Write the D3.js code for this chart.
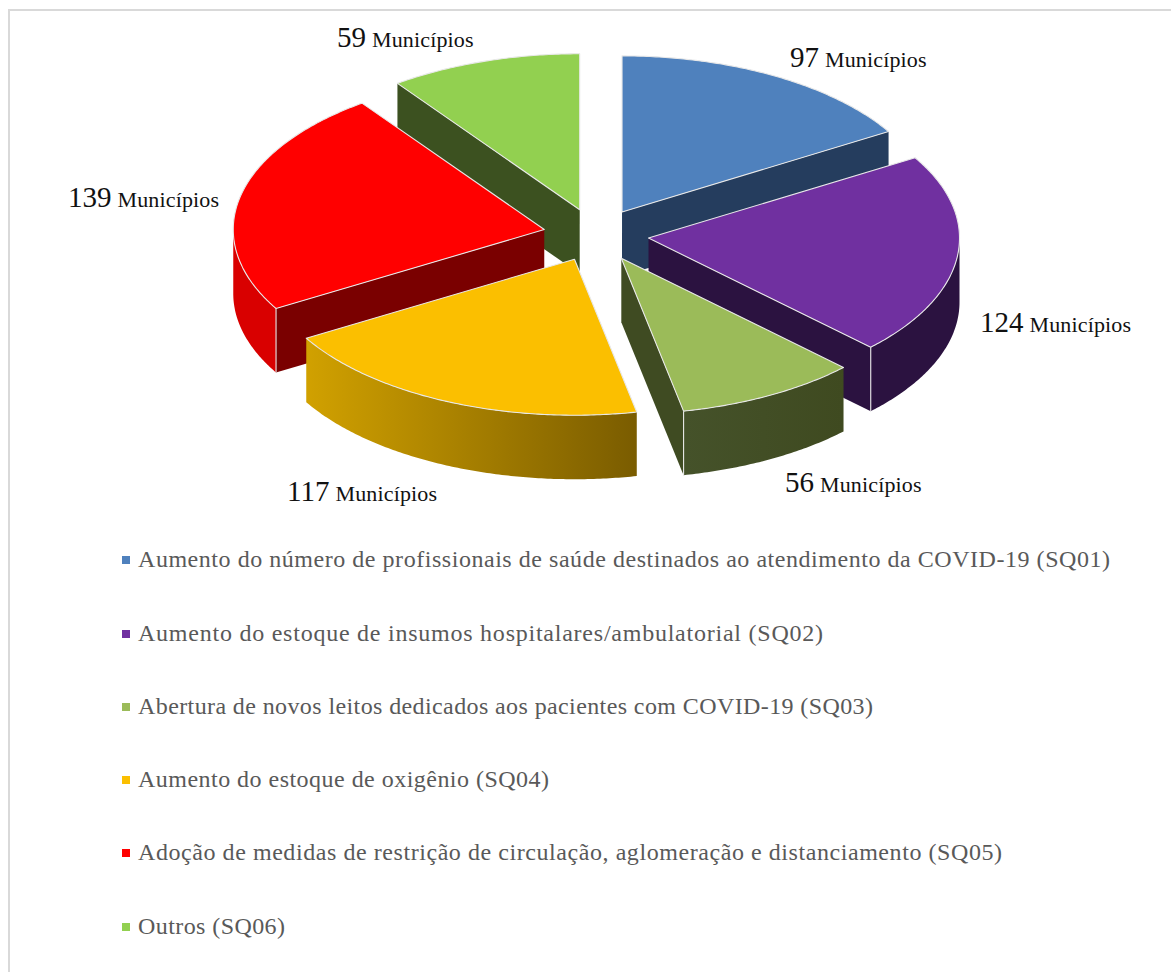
<!DOCTYPE html>
<html><head><meta charset="utf-8">
<script src="https://cdn.jsdelivr.net/npm/d3@7/dist/d3.min.js"></script>
<style>html,body{margin:0;padding:0;background:#fff;overflow:hidden}svg{display:block}text{font-family:"Liberation Serif",serif}</style>
</head><body><div id="c"></div>
<script>
const categories = [
 "Aumento do número de profissionais de saúde destinados ao atendimento da COVID-19 (SQ01)",
 "Aumento do estoque de insumos hospitalares/ambulatorial (SQ02)",
 "Abertura de novos leitos dedicados aos pacientes com COVID-19 (SQ03)",
 "Aumento do estoque de oxigênio (SQ04)",
 "Adoção de medidas de restrição de circulação, aglomeração e distanciamento (SQ05)",
 "Outros (SQ06)"];
const values = [97,124,56,117,139,59];
const unit = "Municípios";
const topColors  = ["#4f81bd","#7030a0","#9bbb59","#fbbf00","#ff0000","#92d050"];
const wallColors = ["#253d5e","#2b1240","#3f4b22","#7a5c00","#7a0000","#3c5120"];
const rimStart   = ["#253d5e","#2b1240","#3f4a20","#7a5c00","#d90000","#3c5120"];
const rimEnd     = ["#253d5e","#2b1240","#45522a","#d1a100","#d90000","#3c5120"];
const drawOrder  = [5,0,4,1,3,2];
const labelX = [790,980,785,287,68,337];
const labelY = [67,332,492,501,207,47];
const legendY = [560,634,707,780,853,927];
const legendWidth = [972,685,735,411,864,147];

const W=1171,H=972, cx=596, cy=235, rx=311, ry=156, depth=64, explode=0.17;
const x=d3.scaleLinear().domain([-1,1]).range([cx-rx,cx+rx]);
const y=d3.scaleLinear().domain([-1,1]).range([cy-ry,cy+ry]);
const svg=d3.select("#c").append("svg").attr("width",W).attr("height",H);
svg.append("rect").attr("width",W).attr("height",H).attr("fill","#fff");
svg.append("path").attr("d",`M9,${H}V10H${W}`).attr("fill","none").attr("stroke","#d9d9d9").attr("stroke-width",2);

const arcs=d3.pie().sort(null).startAngle(0).endAngle(2*Math.PI)(values);
const defs=svg.append("defs");
const line=d3.line().x(d=>d[0]).y(d=>d[1]);
function pt(d,a,r,dz=0){
  const m=(d.startAngle+d.endAngle)/2;
  return [x(explode*Math.sin(m)+r*Math.sin(a)), y(-explode*Math.cos(m)-r*Math.cos(a))+dz];
}
function sweep(a0,a1){const n=Math.max(2,Math.ceil((a1-a0)/0.01));return d3.range(n+1).map(i=>a0+(a1-a0)*i/n);}
const edge={stroke:"#e8e8e8","stroke-width":1.1,"stroke-linejoin":"round"};
function styled(sel,o){Object.entries(o).forEach(([k,v])=>sel.attr(k,v));return sel;}

drawOrder.forEach(i=>{
  const d=arcs[i], a0=d.startAngle, a1=d.endAngle, g=svg.append("g");
  const wall=a=>[pt(d,a,0),pt(d,a,1),pt(d,a,1,depth),pt(d,a,0,depth)];
  if(Math.sin(a0)<0) g.append("path").attr("d",line(wall(a0))+"Z").attr("fill",wallColors[i]);
  if(Math.sin(a1)>0.001) g.append("path").attr("d",line(wall(a1))+"Z").attr("fill",wallColors[i]);
  const r0=Math.max(a0,Math.PI/2), r1=Math.min(a1,3*Math.PI/2);
  if(r1>r0){
    const s=sweep(r0,r1), top=s.map(a=>pt(d,a,1)), bot=s.map(a=>pt(d,a,1,depth)).reverse();
    const gid="rim"+i, xs=top.map(p=>p[0]);
    const lg=defs.append("linearGradient").attr("id",gid).attr("gradientUnits","userSpaceOnUse")
      .attr("x1",d3.max(xs)).attr("x2",d3.min(xs)).attr("y1",0).attr("y2",0);
    lg.append("stop").attr("offset",0).attr("stop-color",rimStart[i]);
    lg.append("stop").attr("offset",1).attr("stop-color",rimEnd[i]);
    g.append("path").attr("d",line(top.concat(bot))+"Z").attr("fill",`url(#${gid})`);
  }
  [a0,a1].forEach(a=>{
    const vis=(a===a0?Math.sin(a0)<0:Math.sin(a1)>0.001);
    if(vis && a>=Math.PI/2-0.001 && a<=3*Math.PI/2+0.001)
      styled(g.append("path").attr("d",line([pt(d,a,1),pt(d,a,1,depth)])).attr("fill","none"),edge);
  });
  const face=[pt(d,a0,0)].concat(sweep(a0,a1).map(a=>pt(d,a,1)));
  styled(g.append("path").attr("d",line(face)+"Z").attr("fill",topColors[i]),edge);
});

values.forEach((v,i)=>{
  const t=svg.append("text").attr("x",labelX[i]).attr("y",labelY[i]).attr("fill","#111");
  t.append("tspan").attr("font-size",29).text(v);
  t.append("tspan").attr("font-size",22).attr("dx",6).attr("letter-spacing",0.15).text(unit);
});
categories.forEach((c,i)=>{
  svg.append("rect").attr("x",122).attr("y",legendY[i]-4).attr("width",8).attr("height",8).attr("fill",topColors[i]);
  svg.append("text").attr("x",138).attr("y",legendY[i]+7).attr("font-size",24)
    .attr("textLength",legendWidth[i]).attr("lengthAdjust","spacing").attr("fill","#595959").text(c);
});
</script></body></html>
